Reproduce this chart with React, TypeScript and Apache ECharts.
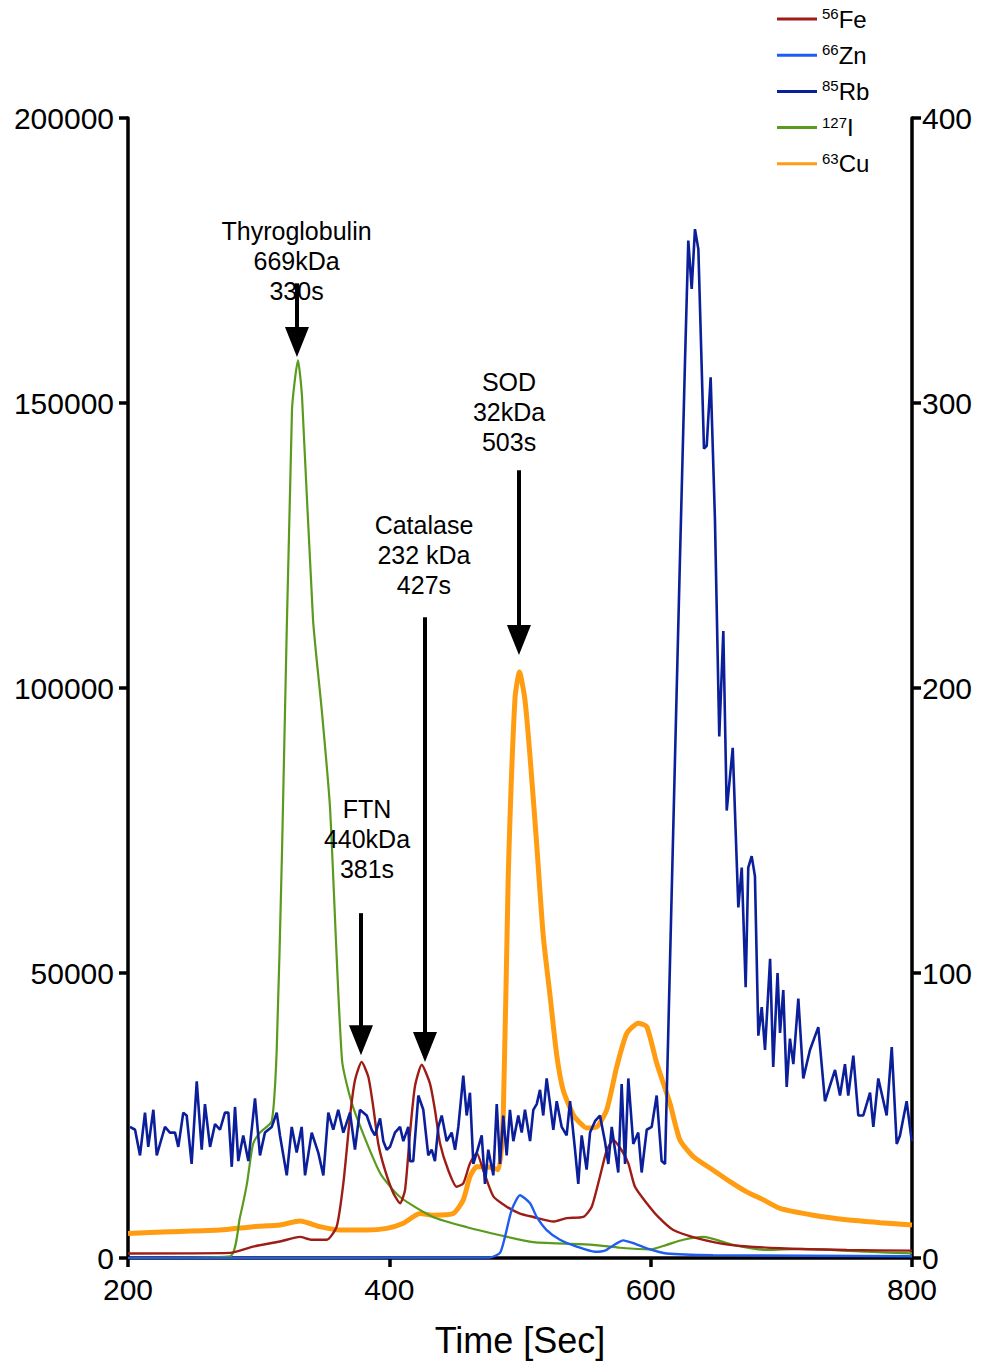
import React, { useEffect, useRef } from "react";
import * as echarts from "echarts";

const FONT = '"Liberation Sans", Arial, Helvetica, sans-serif';

// time [s], intensity (left axis)
const fe: number[][] = [[200,800],[278,900],[295.7,2000],[316.3,2900],[331.6,3700],[340.6,3200],[352.1,3200],[359.7,5500],[364.8,13100],[369.9,24800],[373.7,31200],[378.8,34400],[383.9,31800],[387.7,26500],[391.5,20100],[396.7,15400],[403,11400],[408.2,9600],[412,11900],[415.8,21900],[419.6,30100],[424.8,33900],[431.1,30600],[434.9,26000],[438.8,20100],[445.1,15400],[451.5,12500],[456.6,13100],[461.7,16600],[466.9,18400],[471.9,15400],[479.6,10800],[489.8,9000],[500,7800],[510.2,7200],[525.5,6400],[535.7,7000],[548.4,7200],[554.9,9000],[561.2,14300],[566.4,18900],[571.4,20700],[577.8,18900],[582.9,16600],[588,12500],[597,9600],[605.8,7200],[617.3,4900],[635.2,3500],[660.7,2300],[699,1700],[750,1400],[800,1300]];

const zn: number[][] = [[200,0],[477,100],[484.7,900],[488.5,3700],[493.6,8400],[500,11000],[507.7,9600],[512.8,7200],[520.4,4900],[530.6,3200],[543.4,2000],[557.4,1100],[565,1300],[571.4,2200],[579,3100],[586.7,2600],[597,1700],[612.2,800],[647.7,500],[800,300]];

const iodine: number[][] = [[200,0],[278,300],[285.7,7200],[291,13000],[295.7,20000],[301,22000],[310,24000],[313.8,36500],[317.9,71600],[325.5,148800],[330.1,157500],[333.2,151000],[341.6,112000],[348.5,95600],[354.6,79000],[363.8,34700],[372.2,26500],[392.9,14900],[408.2,10700],[433.4,7200],[459.4,5400],[484.7,4000],[510,2800],[555.9,2300],[576.5,1800],[599.5,1500],[612.2,2300],[625,3200],[640.3,3700],[663.2,2300],[688.7,1400],[714.3,1600],[765.3,1100],[800,800]];

const cu: number[][] = [[200,4300],[232.1,4600],[270.4,4900],[295.7,5500],[316.3,5800],[331.6,6500],[346.9,5500],[362.2,4900],[382.7,4900],[398,5200],[410.7,6100],[423.5,7800],[433.6,7500],[448.9,7800],[456.6,10200],[461.7,14300],[466.9,16000],[474.5,16000],[483.4,15500],[487.2,25100],[491,67000],[496.2,98300],[499.6,102800],[503.8,97900],[507.7,87900],[512.8,72500],[517.8,56500],[523,46000],[528.1,35600],[533.1,29400],[540.8,25100],[545.9,23700],[551,22800],[558.7,23000],[566.4,26000],[574.1,33600],[581.7,39400],[590.5,41200],[597,40600],[604.6,34200],[614.8,27100],[622.4,20700],[632.6,17800],[647.9,15400],[660.7,13400],[673.5,11600],[686.2,10200],[699,8700],[724.5,7500],[750,6700],[775.5,6200],[800,5800]];

// time [s], intensity (right axis)
const rb: number[][] = [[201.5,46],[205.4,45],[209.2,36],[213,51],[215.5,39],[219.4,52],[222,36],[224.5,40],[228.3,46],[232.1,44],[236,44],[238.5,39],[242.3,51],[244.9,50],[248.7,33],[252.6,62],[256.4,38],[258.9,54],[262.8,39],[266.6,47],[270.4,45],[274.2,51],[276.8,51],[279.4,32],[281.9,53],[284.4,34],[288.2,43],[292.1,34],[297.2,56],[301,36],[304.8,44],[310,46],[313.8,51],[316.3,43],[321.5,29],[325.3,46],[329.1,37],[332.9,46],[335.5,29],[340.6,44],[345.6,37],[349.5,29],[353.3,51],[357.1,45],[360.9,52],[364.8,44],[369.9,51],[373.7,38],[377.5,52],[382.7,50],[386.5,45],[389,43],[392.9,49],[395.4,41],[398,38],[400.5,39],[404.3,44],[408.2,46],[410.7,41],[414.5,46],[415.8,34],[418.3,34],[422.2,57],[426,52],[429.8,36],[432.4,38],[434.9,34],[437.5,46],[440.1,50],[443.9,41],[447.7,44],[450.3,38],[452.8,46],[456.6,64],[459.2,50],[461.7,58],[464.3,33],[466.9,37],[470.7,43],[473.2,26],[475.7,38],[479.6,29],[482.2,54],[484.7,33],[487.2,50],[489.8,36],[492.3,52],[494.9,41],[498.7,50],[501.3,44],[503.8,52],[507.7,41],[510.2,52],[512.8,54],[515.3,59],[517.8,50],[520.4,63],[523,54],[525.5,45],[528.1,55],[531.9,46],[535.7,43],[538.3,55],[542.1,38],[544.6,26],[547.2,43],[551,31],[553.6,44],[557.4,48],[561.2,50],[565,41],[567.6,33],[570.2,46],[572.7,38],[575.2,30],[577.8,61],[580.4,33],[582.9,63],[586.7,40],[590.5,44],[593.1,30],[597,45],[600.8,46],[604.6,57],[608.4,34],[611,33],[614.8,104],[618.6,175],[622.4,245],[626.3,315],[628.8,357],[631.4,340],[633.9,361],[636.5,354],[640.8,284],[642.9,285],[645.9,309],[649.2,259],[652.5,183],[655.6,220],[658.2,157],[662.8,179],[667.1,123],[669.7,137],[672.7,95],[674.7,137],[677.3,141],[679.8,134],[682.4,78],[685,88],[687.5,73],[691.4,105],[693.8,67],[697.1,100],[699,79],[701.5,94],[704.1,60],[706.6,77],[709.2,68],[713,91],[716.8,63],[721.9,73],[728.3,81],[733.4,55],[741.1,66],[744.9,57],[748.7,68],[751.2,57],[755.1,71],[758.9,50],[762.7,50],[767.9,58],[770.4,46],[774.2,63],[780.6,50],[784.5,74],[788.3,40],[790.8,43],[795.9,55],[799.8,41]];

const xTicks = [200, 400, 600, 800];
const leftTicks = [0, 50000, 100000, 150000, 200000];
const rightTicks = [0, 100, 200, 300, 400];

const legendOrder = ["Fe", "Zn", "Rb", "I", "Cu"];
const isotopes: Record<string, string> = { Fe: "56", Zn: "66", Rb: "85", I: "127", Cu: "63" };

// standards: label, retention x, label centre, arrow top y, arrow head centre y (left axis units)
const standards = [
  { text: "Thyroglobulin\n669kDa\n330s", x: 329.3, labelX: 329.0, labelY: 174900, top: 171000, head: 160700 },
  { text: "FTN\n440kDa\n381s", x: 378.3, labelX: 382.9, labelY: 73500, top: 60500, head: 38200 },
  { text: "Catalase\n232 kDa\n427s", x: 427.3, labelX: 426.5, labelY: 123300, top: 112400, head: 37000 },
  { text: "SOD\n32kDa\n503s", x: 499.2, labelX: 491.6, labelY: 148400, top: 138200, head: 108400 },
];

const COLORS: Record<string, string> = {
  Fe: "#9e1c16",
  Zn: "#1f5cf0",
  Rb: "#0c1f9a",
  I: "#5a9a1c",
  Cu: "#ff9c12",
};

export default function App() {
  const ref = useRef<HTMLDivElement>(null);
  useEffect(() => {
    document.body.style.margin = "0";
    if (!ref.current) return;
    const chart = echarts.init(ref.current, undefined, { renderer: "svg" });
    const axisLine = { show: true, onZero: false, lineStyle: { color: "#000", width: 3.5 } };
    const axisTick = { show: true, inside: false, length: 9, lineStyle: { color: "#000", width: 3.5 } };
    const labelStyle = { color: "#000", fontSize: 30, fontFamily: FONT };
    const lineSeries = (name: string, data: number[][], width: number, yAxisIndex = 0, smooth: number | boolean = 0.2) => ({
      name,
      type: "line",
      data,
      yAxisIndex,
      showSymbol: false,
      symbol: "none",
      smooth,
      color: COLORS[name],
      lineStyle: { color: COLORS[name], width },
      itemStyle: { color: COLORS[name] },
      emphasis: { disabled: true },
      silent: true,
      z: 2,
    });
    chart.setOption({
      animation: false,
      backgroundColor: "#fff",
      grid: { left: 128, right: 70, top: 118, bottom: 108, containLabel: false, outerBoundsMode: "none" },
      legend: {
        data: legendOrder,
        orient: "vertical",
        left: 777,
        top: 6,
        padding: 0,
        itemWidth: 40,
        itemHeight: 3,
        itemGap: 10.2,
        icon: "rect",
        selectedMode: false,
        formatter: (name: string) => `{sup|${isotopes[name]}}{el|${name}}`,
        textStyle: {
          color: "#000",
          fontFamily: FONT,
          fontSize: 24,
          lineHeight: 26,
          rich: {
            sup: { fontSize: 15, fontFamily: FONT, color: "#000", verticalAlign: "top", lineHeight: 17 },
            el: { fontSize: 24, fontFamily: FONT, color: "#000", lineHeight: 26 },
          },
        },
      },
      xAxis: {
        type: "value",
        min: xTicks[0],
        max: xTicks[xTicks.length - 1],
        interval: 200,
        axisLine,
        axisTick,
        splitLine: { show: false },
        axisLabel: { ...labelStyle, margin: 16 },
        name: "Time [Sec]",
        nameLocation: "middle",
        nameGap: 64,
        nameTextStyle: { color: "#000", fontSize: 36, fontFamily: FONT },
      },
      yAxis: [
        {
          type: "value",
          min: leftTicks[0],
          max: leftTicks[leftTicks.length - 1],
          interval: 50000,
          position: "left",
          axisLine,
          axisTick,
          splitLine: { show: false },
          axisLabel: { ...labelStyle, margin: 14, formatter: (v: number) => String(v) },
        },
        {
          type: "value",
          min: rightTicks[0],
          max: rightTicks[rightTicks.length - 1],
          interval: 100,
          position: "right",
          axisLine,
          axisTick,
          splitLine: { show: false },
          axisLabel: { ...labelStyle, margin: 10, formatter: (v: number) => String(v) },
        },
      ],
      series: [
        lineSeries("Cu", cu, 5),
        lineSeries("I", iodine, 2.2),
        lineSeries("Fe", fe, 2.4),
        lineSeries("Zn", zn, 2.4),
        lineSeries("Rb", rb, 2.6, 1, false),
        {
          name: "standards",
          type: "scatter",
          yAxisIndex: 0,
          symbol: "circle",
          symbolSize: 0,
          itemStyle: { color: "#fff", opacity: 1 },
          silent: true,
          z: 5,
          label: {
            show: true,
            position: "inside",
            formatter: (p: any) => p.data.text,
            color: "#000",
            opacity: 1,
            textBorderWidth: 0,
            fontSize: 25,
            lineHeight: 30,
            fontFamily: FONT,
            align: "center",
            verticalAlign: "middle",
          },
          data: standards.map((s) => ({ value: [s.labelX, s.labelY], text: s.text })),
          markLine: {
            silent: true,
            symbol: ["none", "triangle"],
            symbolSize: [24, 30],
            label: { show: false },
            emphasis: { disabled: true },
            lineStyle: { color: "#000", width: 4, type: "solid" },
            itemStyle: { color: "#000" },
            data: standards.map((s) => [
              { coord: [s.x, s.top] },
              { coord: [s.x, s.head] },
            ]),
          },
        },
      ],
    });
    return () => chart.dispose();
  }, []);
  return <div ref={ref} style={{ width: 982, height: 1366 }} />;
}
